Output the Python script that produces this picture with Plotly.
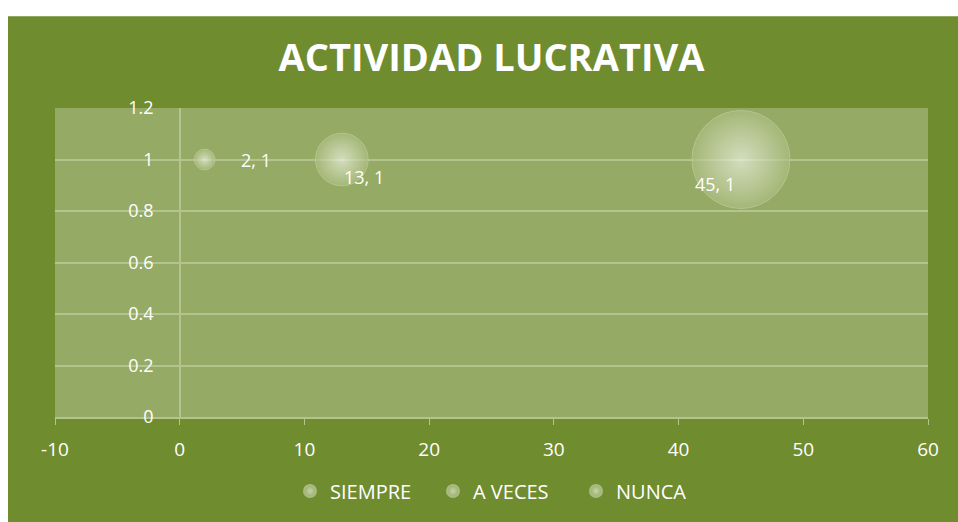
import plotly.graph_objects as go

# ---- data ----
series_names = ["SIEMPRE", "A VECES", "NUNCA"]
x_values = [2, 13, 45]
y_values = [1, 1, 1]
bubble_sizes = [2, 13, 45]
point_labels = ["2, 1", "13, 1", "45, 1"]
x_tick_values = [-10, 0, 10, 20, 30, 40, 50, 60]
x_tick_labels = ["-10", "0", "10", "20", "30", "40", "50", "60"]
y_tick_values = [0, 0.2, 0.4, 0.6, 0.8, 1, 1.2]
y_tick_labels = ["0", "0.2", "0.4", "0.6", "0.8", "1", "1.2"]
chart_title = "ACTIVIDAD LUCRATIVA"

# ---- style ----
W, H = 958, 522
ML, MR, MT, MB = 55, 30, 108, 101
PW, PH = W - ML - MR, H - MT - MB
OUTER_GREEN = "#6f8c2f"
PLOT_GREEN = "#95aa64"
GRID = "#b4c48e"
FONT = "Open Sans"

max_px = 98
sizeref = 2.0 * max(bubble_sizes) / (max_px ** 2)

fig = go.Figure()
for name, xv, yv, sv in zip(series_names, x_values, y_values, bubble_sizes):
    fig.add_trace(go.Scatter(
        x=[xv], y=[yv], mode="markers", name=name,
        marker=dict(
            size=[sv], sizemode="area", sizeref=sizeref,
            color="#abbe80",
            gradient=dict(type="radial", color="#eef3e4"),
            line=dict(width=1, color="#c2d0a0"),
        ),
        hoverinfo="skip",
    ))

# data labels (offsets are styling)
label_style = [
    dict(xanchor="left", xshift=34, yshift=0),
    dict(xanchor="left", xshift=0, yshift=-17),
    dict(xanchor="right", xshift=-4, yshift=-24),
]
for xv, yv, txt, st in zip(x_values, y_values, point_labels, label_style):
    fig.add_annotation(x=xv, y=yv, text=txt, showarrow=False,
                       font=dict(family=FONT, size=18, color="white"),
                       yanchor="middle", **st)


def px_to_paper_x(px):
    return (px - ML) / PW


def px_to_paper_y(py):
    return (H - MB - py) / PH


# white frame strips (top and left), plot area fill
fig.add_shape(type="rect", xref="paper", yref="paper", layer="below",
              x0=px_to_paper_x(-5), x1=px_to_paper_x(W + 10),
              y0=px_to_paper_y(15), y1=px_to_paper_y(-5),
              fillcolor="white", line=dict(width=0))
fig.add_shape(type="rect", xref="paper", yref="paper", layer="below",
              x0=px_to_paper_x(-5), x1=px_to_paper_x(8),
              y0=px_to_paper_y(H + 10), y1=px_to_paper_y(-5),
              fillcolor="white", line=dict(width=0))
fig.add_shape(type="rect", xref="paper", yref="paper", layer="below",
              x0=0, x1=1, y0=0, y1=1,
              fillcolor=PLOT_GREEN, line=dict(width=0))

fig.update_layout(
    width=W, height=H,
    margin=dict(l=ML, r=MR, t=MT, b=MB),
    paper_bgcolor=OUTER_GREEN,
    plot_bgcolor="rgba(0,0,0,0)",
    title=dict(text=chart_title, x=0.5, xref="paper", xanchor="center",
               y=1 - 58 / H, yref="container", yanchor="middle",
               font=dict(family=FONT, size=38, color="white", weight="bold")),
    font=dict(family=FONT, color="white"),
    showlegend=True,
    legend=dict(orientation="h", x=0.5 + 13 / PW, xanchor="center",
                y=px_to_paper_y(496), yanchor="middle",
                font=dict(family=FONT, size=20, color="white"),
                entrywidth=98, entrywidthmode="pixels",
                itemsizing="constant", bgcolor="rgba(0,0,0,0)"),
    xaxis=dict(range=[-10, 60], tickvals=x_tick_values, ticktext=x_tick_labels,
               showgrid=False, zeroline=False,
               showline=True, linecolor=GRID, linewidth=2,
               ticks="outside", ticklen=6, tickcolor=GRID, tickwidth=1,
               ticklabelstandoff=8,
               tickfont=dict(family=FONT, size=19, color="white")),
    yaxis=dict(range=[0, 1.2], tickvals=y_tick_values, ticktext=y_tick_labels,
               anchor="free", position=px_to_paper_x(180),
               showgrid=True, gridcolor=GRID, gridwidth=1.5,
               zeroline=False,
               showline=True, linecolor=GRID, linewidth=1.5,
               ticks="", ticklabelstandoff=22,
               tickfont=dict(family=FONT, size=18, color="white")),
)

fig.write_html(
    "out.html",
    config={"displayModeBar": False},
    post_script=("document.documentElement.style.overflow='hidden';"
                 "document.documentElement.style.background='" + OUTER_GREEN + "';"
                 "document.body.style.margin='0';"
                 "document.body.style.overflow='hidden';"
                 "document.body.style.background='" + OUTER_GREEN + "';"),
)
